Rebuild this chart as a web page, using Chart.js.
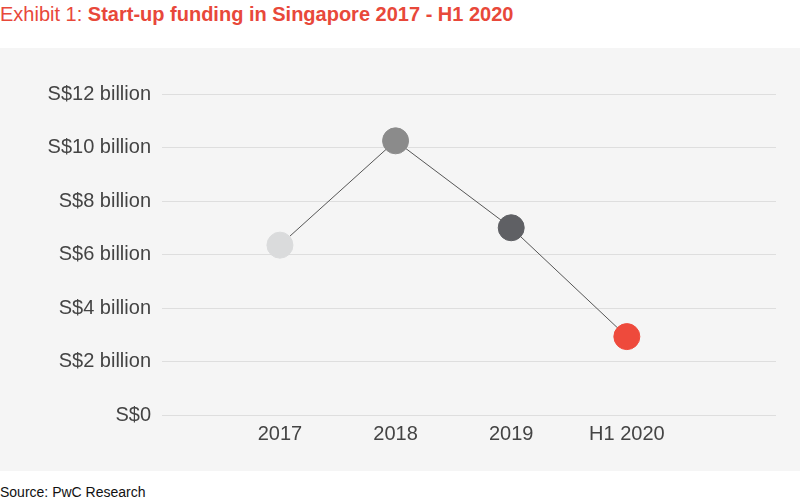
<!DOCTYPE html>
<html>
<head>
<meta charset="utf-8">
<script src="https://cdn.jsdelivr.net/npm/chart.js@4"></script>
<style>
  body { margin: 0; background: #fff; font-family: "Liberation Sans", Arial, sans-serif; }
  #title { height: 48px; box-sizing: border-box; padding: 3px 0 0 0; font-size: 20px; color: #e8483a; }
  #title b { font-weight: bold; }
  #panel { width: 800px; height: 423px; background: #f5f5f5; }
  #source { font-size: 14px; color: #111; padding-top: 13px; }
</style>
</head>
<body>
<div id="title">Exhibit 1: <b>Start-up funding in Singapore 2017 - H1 2020</b></div>
<div id="panel"><canvas id="c" width="800" height="423"></canvas></div>
<div id="source">Source: PwC Research</div>
<script>
const categories = ['2017', '2018', '2019', 'H1 2020'];
const funding = [6.35, 10.25, 7.0, 2.93]; // S$ billion
const pointColors = ['#dadbdc', '#8b8b8b', '#5f6064', '#ee4a3c'];
const yTicks = [0, 2, 4, 6, 8, 10, 12];

const ctx = document.getElementById('c').getContext('2d');
const tickFont = { family: '"Liberation Sans", Arial, sans-serif', size: 20 };

new Chart(ctx, {
    type: 'line',
    data: {
        datasets: [{
            data: funding.map((v, i) => ({ x: i, y: v })),
            borderColor: '#555',
            borderWidth: 1,
            pointRadius: 13,
            pointHoverRadius: 13,
            pointBackgroundColor: pointColors,
            pointBorderColor: pointColors,
            pointBorderWidth: 1,
            tension: 0
        }]
    },
    options: {
        responsive: false,
        animation: false,
        layout: { padding: { top: 46, right: 24, bottom: 18, left: 0 } },
        plugins: { legend: { display: false }, tooltip: { enabled: false } },
        scales: {
            x: {
                type: 'linear',
                min: -1.02,
                max: 4.29,
                grid: { display: false, drawTicks: false },
                border: { display: false },
                afterBuildTicks: s => { s.ticks = categories.map((c, i) => ({ value: i })); },
                ticks: {
                    padding: 7,
                    color: '#444',
                    font: tickFont,
                    callback: v => categories[v] ?? ''
                }
            },
            y: {
                min: 0,
                max: 12,
                afterFit: s => { s.width = 162; },
                afterBuildTicks: s => { s.ticks = yTicks.map(v => ({ value: v })); },
                grid: { color: '#dedede', lineWidth: 1, drawTicks: false },
                border: { display: false },
                ticks: {
                    padding: 11,
                    color: '#444',
                    font: tickFont,
                    callback: v => v === 0 ? 'S$0' : 'S$' + v + ' billion'
                }
            }
        }
    }
});
</script>
</body>
</html>
